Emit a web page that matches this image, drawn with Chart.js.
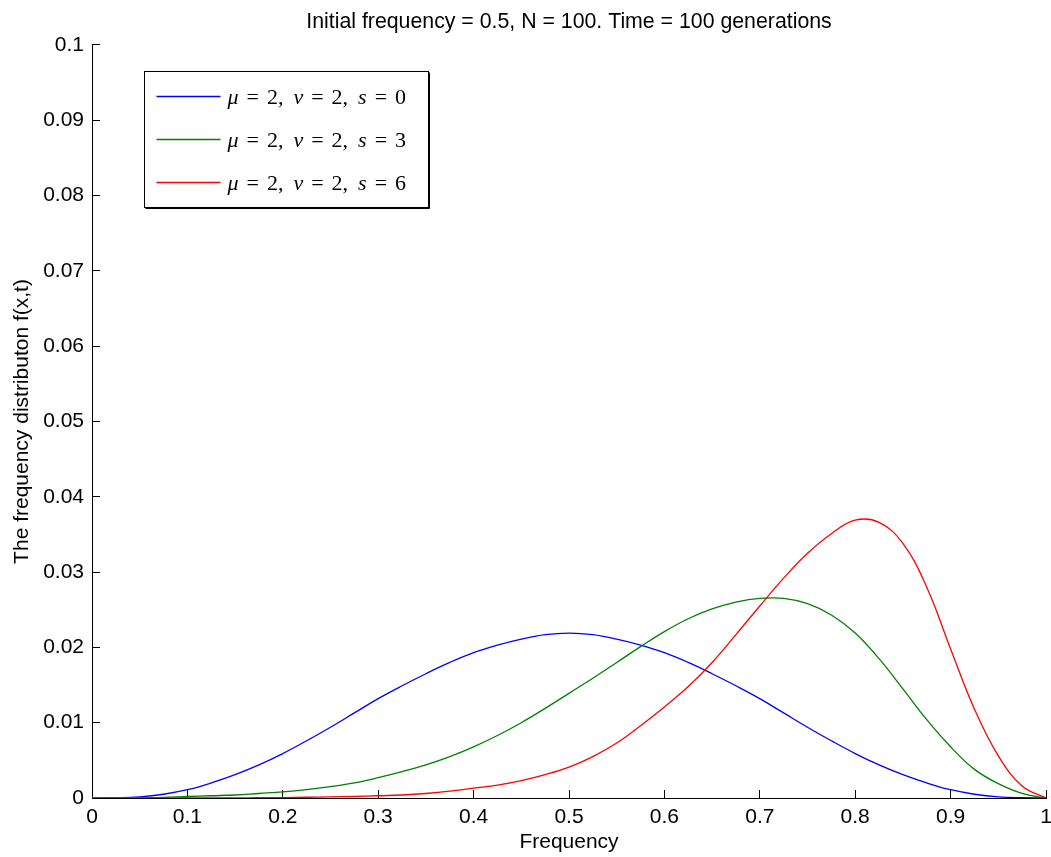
<!DOCTYPE html>
<html>
<head>
<meta charset="utf-8">
<title>Frequency distribution f(x,t)</title>
<script src="https://cdn.jsdelivr.net/npm/chart.js@4.4.1/dist/chart.umd.min.js"></script>
<style>
    html, body { margin: 0; padding: 0; background: #fff; }
    #wrap { width: 1051px; height: 857px; }
</style>
</head>
<body>
<div id="wrap"><canvas id="freqChart" width="1051" height="857"></canvas></div>
<script>
// Allele frequency grid and the distribution after 100 generations
const freq = [0, 0.025, 0.05, 0.075, 0.1, 0.125, 0.15, 0.175, 0.2, 0.225, 0.25,
              0.275, 0.3, 0.325, 0.35, 0.375, 0.4, 0.425, 0.45, 0.475, 0.5,
              0.525, 0.55, 0.575, 0.6, 0.625, 0.65, 0.675, 0.7, 0.725, 0.75,
              0.775, 0.8, 0.825, 0.85, 0.875, 0.9, 0.925, 0.95, 0.975, 1];
const distS0 = [0, 0.00003, 0.00015, 0.0005, 0.0011, 0.0020, 0.0031, 0.0044, 0.0059, 0.0076, 0.0094,
                0.0113, 0.0132, 0.0149, 0.0165, 0.0180, 0.0193, 0.0203, 0.0211, 0.0217, 0.0219,
                0.0217, 0.0211, 0.0203, 0.0193, 0.0180, 0.0165, 0.0149, 0.0132, 0.0113, 0.0094,
                0.0076, 0.0059, 0.0044, 0.0031, 0.0020, 0.0011, 0.0005, 0.00015, 0.00003, 0];
const distS3 = [0, 0, 0.00002, 0.00008, 0.0002, 0.0003, 0.0004, 0.0006, 0.0008, 0.0011, 0.0015,
                0.0020, 0.0027, 0.0035, 0.0044, 0.0055, 0.0068, 0.0083, 0.0100, 0.0119, 0.0139,
                0.0159, 0.0180, 0.0201, 0.0221, 0.0238, 0.0251, 0.0260, 0.0265, 0.0265, 0.0258,
                0.0243, 0.0219, 0.0185, 0.0145, 0.0104, 0.0068, 0.0038, 0.0019, 0.0006, 0];
const distS6 = [0, 0, 0, 0, 0, 0.00001, 0.00002, 0.00004, 0.00006, 0.0001, 0.00015,
                0.0002, 0.0003, 0.0004, 0.0006, 0.0009, 0.0013, 0.0017, 0.0023, 0.0031, 0.0041,
                0.0055, 0.0073, 0.0096, 0.0121, 0.0148, 0.0180, 0.0217, 0.0255, 0.0292, 0.0325,
                0.0351, 0.0369, 0.0366, 0.0338, 0.0280, 0.0198, 0.0118, 0.0056, 0.0016, 0];
const seriesLabels = ['μ = 2, ν = 2, s = 0', 'μ = 2, ν = 2, s = 3', 'μ = 2, ν = 2, s = 6'];
const seriesColors = ['#0000ff', '#008000', '#ff0000'];
const xRange = [0, 1];
const yRange = [0, 0.1];
const xStep = 0.1;
const yStep = 0.01;

const SANS = '"Liberation Sans", Arial, Helvetica, sans-serif';
const SERIF = '"Liberation Serif", "Times New Roman", serif';
const axisFont = { family: SANS, size: 21, weight: 'normal' };

const toPoints = ys => ys.map((y, i) => ({ x: freq[i], y: y }));
const fmtTick = v => String(parseFloat(Number(v).toFixed(3)));

// draws "μ = 2, ν = 2, s = 0" with italic symbols, like TeX math
function drawMathLabel(ctx, text, x, y) {
    ctx.fillStyle = '#000';
    ctx.textBaseline = 'alphabetic';
    ctx.textAlign = 'left';
    text.split(' ').forEach(tok => {
        const isVar = /^[a-zμν]$/i.test(tok);
        ctx.font = (isVar ? 'italic ' : '') + '22px ' + SERIF;
        ctx.fillText(tok, x, y);
        x += ctx.measureText(tok).width + (isVar ? 8 : tok === '=' ? 8 : 10);
    });
}

// boxed legend in the upper-left corner of the axes
const legendBox = {
    id: 'legendBox',
    afterDraw(chart) {
        const { ctx, chartArea } = chart;
        const x0 = Math.round(chartArea.left + 52) + 0.5;
        const y0 = Math.round(chartArea.top + 26) + 0.5;
        const w = 284, h = 136;
        ctx.save();
        ctx.fillStyle = '#fff';
        ctx.fillRect(x0, y0, w, h);
        ctx.strokeStyle = '#000';
        ctx.lineWidth = 1;
        ctx.strokeRect(x0, y0, w, h);
        // slightly heavier right/bottom edge
        ctx.beginPath();
        ctx.moveTo(x0 + w + 1, y0 + 1);
        ctx.lineTo(x0 + w + 1, y0 + h + 1);
        ctx.lineTo(x0 + 1, y0 + h + 1);
        ctx.stroke();

        chart.data.datasets.forEach((ds, i) => {
            const rowY = y0 + 25 + i * 43;
            ctx.strokeStyle = ds.borderColor;
            ctx.lineWidth = 1.3;
            ctx.beginPath();
            ctx.moveTo(x0 + 12, rowY);
            ctx.lineTo(x0 + 76, rowY);
            ctx.stroke();
            drawMathLabel(ctx, ds.label, x0 + 83, rowY + 7);
        });
        ctx.restore();
    }
};

const series = [distS0, distS3, distS6];

new Chart(document.getElementById('freqChart'), {
    type: 'line',
    data: {
        datasets: series.map((ys, i) => ({
            label: seriesLabels[i],
            data: toPoints(ys),
            borderColor: seriesColors[i],
            borderWidth: 1.3,
            pointRadius: 0,
            fill: false,
            tension: 0.4,
            order: series.length - i   // later curves sit on top
        }))
    },
    options: {
        responsive: false,
        animation: false,
        events: [],
        layout: { padding: { left: 0, right: 5, top: 0, bottom: 0 } },
        plugins: {
            legend: { display: false },
            tooltip: { enabled: false },
            title: {
                display: true,
                fullSize: false,   // centre over the axes, not the canvas
                text: 'Initial frequency = 0.5, N = 100. Time = 100 generations',
                color: '#000',
                font: { family: SANS, size: 21.3, weight: 'normal' },
                padding: { top: 9.8, bottom: 9.6 }
            }
        },
        scales: {
            x: {
                type: 'linear',
                min: xRange[0],
                max: xRange[1],
                border: { color: '#000', width: 1 },
                grid: { drawOnChartArea: false, tickLength: -8, tickColor: '#000', tickWidth: 1 },
                ticks: { stepSize: xStep, padding: 15, color: '#000', font: axisFont, maxRotation: 0, callback: fmtTick },
                title: { display: true, text: 'Frequency', color: '#000', font: axisFont, padding: { top: 0, bottom: 2 } },
                afterFit: s => { s.height = 59; s.paddingLeft = 0; s.paddingRight = 0; }
            },
            y: {
                type: 'linear',
                min: yRange[0],
                max: yRange[1],
                border: { color: '#000', width: 1 },
                grid: { drawOnChartArea: false, tickLength: -8, tickColor: '#000', tickWidth: 1 },
                ticks: { stepSize: yStep, padding: 16, color: '#000', font: axisFont, callback: fmtTick },
                title: { display: true, text: 'The frequency distributon f(x,t)', color: '#000', font: axisFont, padding: { top: 9.4, bottom: 0 } },
                afterFit: s => { s.width = 92; s.paddingTop = 0; s.paddingBottom = 0; }
            }
        }
    },
    plugins: [legendBox]
});
</script>
</body>
</html>
